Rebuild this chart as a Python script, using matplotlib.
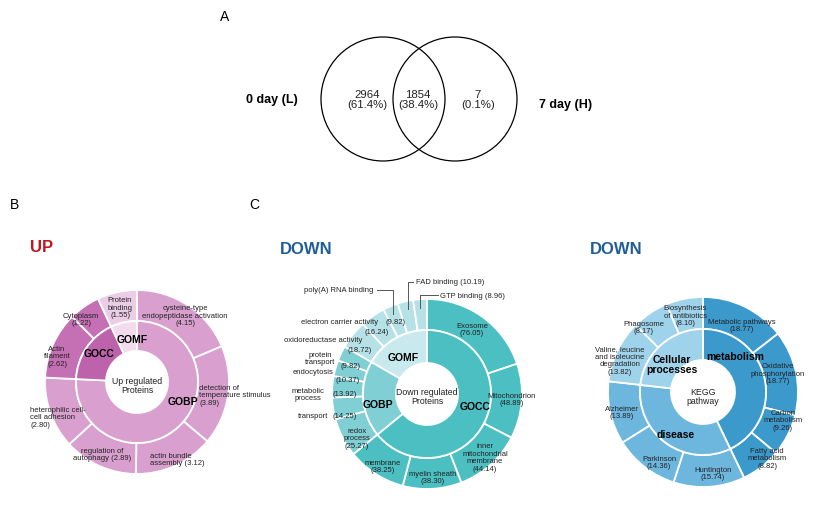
import matplotlib.pyplot as plt
from matplotlib.patches import Circle

plt.rcParams['font.family'] = ['Liberation Sans', 'DejaVu Sans']

H = 510  # figure height in px, text positions below are given top-down

# ---- A: venn counts
venn_counts = [2964, 1854, 7]          # only L, both, only H
venn_names = ['0 day (L)', '7 day (H)']

# ---- B: up regulated GO terms
up_groups = ['GOBP', 'GOCC', 'GOMF']
up_values = [4.15, 3.89, 3.12, 2.89, 2.80, 2.62, 1.22, 1.55]
up_group_of = [0, 0, 0, 0, 0, 1, 1, 2]
up_terms = ['cysteine-type\nendopeptidase activation\n({})',
            'detection of\ntemperature stimulus\n({})',
            'actin bundle\nassembly ({})',
            'regulation of\nautophagy ({})',
            'heterophilic cell-\ncell adhesion\n({})',
            'Actin\nfilament\n({})',
            'Cytoplasm\n({})',
            'Protein\nbinding\n({})']

# ---- C: down regulated GO terms
down_groups = ['GOCC', 'GOBP', 'GOMF']
down_values = [76.05, 48.89, 44.14, 38.30, 38.25,
               25.27, 14.25, 13.92, 10.37, 9.82,
               18.72, 16.24, 9.82, 10.19, 8.96]
down_group_of = [0] * 5 + [1] * 5 + [2] * 5
down_terms = ['Exosome\n({})', 'Mitochondrion\n({})',
              'inner\nmitochondrial\nmembrane\n({})', 'myelin sheath\n({})',
              'membrane\n({})', 'redox\nprocess\n({})',
              'transport', 'metabolic\nprocess', 'endocytosis', 'protein\ntransport',
              'oxidoreductase activity', 'electron carrier activity',
              'poly(A) RNA binding', 'FAD binding ({})', 'GTP binding ({})']

# ---- C: KEGG pathways
kegg_groups = ['metabolism', 'disease', 'Cellular\nprocesses']
kegg_values = [18.77, 18.77, 9.26, 8.82, 15.74, 14.36, 13.89, 13.82, 8.17, 8.10]
kegg_group_of = [0, 0, 0, 0, 1, 1, 1, 2, 2, 2]
kegg_terms = ['Metabolic pathways\n({})', 'Oxidative\nphosphorylation\n({})',
              'Carbon\nmetabolism\n({})', 'Fatty acid\nmetabolism\n({})',
              'Huntington\n({})', 'Parkinson\n({})', 'Alzheimer\n({})',
              'Valine, leucine\nand isoleucine\ndegradation\n({})',
              'Phagosome\n({})', 'Biosynthesis\nof antibiotics\n({})']

fig = plt.figure(figsize=(8.22, 5.1), dpi=100)
ax = fig.add_axes([0, 0, 1, 1])

LAB = 5.5
GRP = 7.5


def txt(x, y, s, size=LAB, ha='center', color='#222222', **kw):
    ax.text(x, H - y, s, fontsize=size, ha=ha, va='center', linespacing=1.12,
            color=color, **kw)


def donut(cx, cy, values, group_of, outer_cols, inner_cols, r_out, r_mid, r_in):
    sums = [sum(v for v, g in zip(values, group_of) if g == k) for k in range(len(inner_cols))]
    wp = dict(edgecolor='white', linewidth=1.3)
    ax.pie(values, radius=r_out, center=(cx, H - cy), startangle=90, counterclock=False,
           colors=[outer_cols[g] for g in group_of], wedgeprops=dict(width=r_out - r_mid, **wp))
    ax.pie(sums, radius=r_mid, center=(cx, H - cy), startangle=90, counterclock=False,
           colors=inner_cols, wedgeprops=dict(width=r_mid - r_in, **wp))


# ---------------- A: venn
total = sum(venn_counts)
ax.add_patch(Circle((383, H - 100), 62, fill=False, lw=0.9, ec='black'))
ax.add_patch(Circle((455, H - 100), 62, fill=False, lw=0.9, ec='black'))
for x, n in zip([367, 418, 478], venn_counts):
    txt(x, 100, f'{n}\n({n / total * 100:.1f}%)', size=8.2)
txt(272, 100, venn_names[0], size=9, fontweight='bold', color='black')
txt(566, 105, venn_names[1], size=9, fontweight='bold', color='black')
txt(225, 17, 'A', size=10, color='black')
txt(14, 205, 'B', size=10, color='black')
txt(254, 205, 'C', size=10, color='black')

# ---------------- B: up
donut(137, 383, up_values, up_group_of,
      ['#d9a0cf', '#c56fb4', '#eccde6'], ['#d9a0cf', '#bd63ac', '#f1dbec'], 92, 61, 31)
txt(42, 247, 'UP', size=12, color='#c3161c', fontweight='bold')
txt(137, 386, 'Up regulated\nProteins', size=6.3)
for g, (x, y) in zip(up_groups, [(183, 402), (99, 354), (132, 340)]):
    txt(x, y, g, size=GRP, fontweight='bold', color='black')
up_pos = [(185, 316, 'center'), (199, 396, 'left'), (150, 460, 'left'), (102, 455, 'center'),
          (30, 418, 'left'), (57, 357, 'center'), (81, 320, 'center'), (120, 308, 'center')]
for t, v, (x, y, ha) in zip(up_terms, up_values, up_pos):
    txt(x, y, t.format(f'{v:.2f}'), ha=ha)

# ---------------- C: down GO
donut(427, 395, down_values, down_group_of,
      ['#4cbfc2', '#7fcfd4', '#b6e1e7'], ['#4cbfc2', '#7fcfd4', '#c8eaee'], 95, 64, 31)
txt(306, 250, 'DOWN', size=12, color='#1f5d99', fontweight='bold')
txt(427, 397, 'Down regulated\nProteins', size=6.3)
for g, (x, y) in zip(down_groups, [(475, 407), (378, 405), (403, 358)]):
    txt(x, y, g, size=GRP, fontweight='bold', color='black')
down_pos = [(472, 330, 'center'), (512, 400, 'center'), (485, 458, 'center'),
            (433, 478, 'center'), (383, 467, 'center'), (357, 439, 'center'),
            (328, 417, 'right'), (308, 395, 'center'), (313, 373, 'center'),
            (320, 359, 'center'), (323, 341, 'center'), (340, 323, 'center'),
            (339, 291, 'center'), (416, 283, 'left'), (440, 296, 'left')]
for t, v, (x, y, ha) in zip(down_terms, down_values, down_pos):
    txt(x, y, t.format(f'{v:.2f}'), ha=ha)
# values written apart from their term
val_pos = {6: (345, 417), 7: (345, 395), 8: (348, 381), 9: (350, 366),
           10: (360, 350), 11: (377, 333), 12: (396, 323)}
for i, (x, y) in val_pos.items():
    txt(x, y, f'({down_values[i]:.2f})')
# leader lines
for xs, ys in [([377, 393, 393], [291, 291, 315]),
               ([413, 408, 408], [283, 283, 310]),
               ([438, 420, 420], [296, 296, 309])]:
    ax.plot(xs, [H - y for y in ys], color='#555555', lw=0.7)

# ---------------- C: KEGG
donut(703, 393, kegg_values, kegg_group_of,
      ['#3c99cc', '#6db7df', '#9fd3ec'], ['#3c99cc', '#6db7df', '#9fd3ec'], 95, 63, 32)
txt(616, 250, 'DOWN', size=12, color='#1f5d99', fontweight='bold')
txt(703, 397, 'KEGG\npathway', size=6.3)
for g, (x, y) in zip(kegg_groups, [(735, 357), (676, 435), (672, 365)]):
    txt(x, y, g, size=GRP, fontweight='bold', color='black')
kegg_pos = [(742, 326), (778, 374), (783, 421), (767, 459), (713, 474),
            (659, 463), (622, 413), (620, 361), (644, 328), (685, 316)]
for t, v, (x, y) in zip(kegg_terms, kegg_values, kegg_pos):
    txt(x, y, t.format(f'{v:.2f}'))

ax.set_xlim(0, 822)
ax.set_ylim(0, H)
ax.set_aspect('equal')
ax.axis('off')
fig.savefig('out.png', dpi=100)
